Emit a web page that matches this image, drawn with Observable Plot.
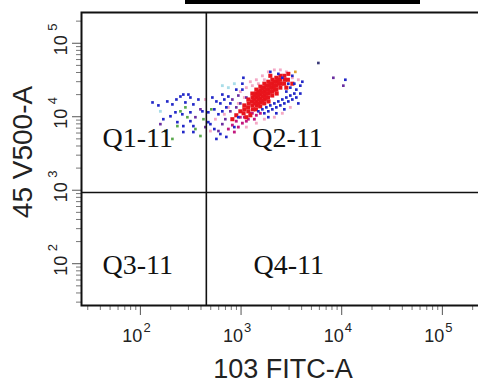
<!DOCTYPE html>
<html><head><meta charset="utf-8">
<script src="https://cdn.jsdelivr.net/npm/d3@7"></script>
<script src="https://cdn.jsdelivr.net/npm/@observablehq/plot@0.6"></script>
<style>
html,body{margin:0;padding:0;background:#fff;overflow:hidden;width:478px;height:385px}
#chart{position:absolute;left:0;top:0}
#bar{position:absolute;left:185px;top:0;width:235px;height:4px;background:#000}
</style></head><body>
<div id="chart"></div><div id="bar"></div>
<script>
// Tick values and labels
const decades = [100, 1000, 10000, 100000];
const exponents = ["2", "3", "4", "5"];
const minorTicks = [30,40,50,60,70,80,90,200,300,400,500,600,700,800,900,2000,3000,4000,5000,6000,7000,8000,9000,20000,30000,40000,50000,60000,70000,80000,90000,200000];

// Axis titles and gates
const xTitle = "103 FITC-A";
const yTitle = "45 V500-A";
const gateFITC = 452;
const gateV500 = 930;

// Quadrant labels
const quadLabels = ["Q1-11", "Q2-11", "Q3-11", "Q4-11"];
const quadFITC = [42, 1295, 42, 1330];
const quadV500 = [5200, 5200, 95, 95];

// Events (FITC, V500) per population colour
const redFITC = [1078,1078,1060, 1182,1190,1175,1182, 1295,1300,1285,1295,1310, 1419,1410,1425,1419,1430,1405,
  1555,1560,1545,1555,1570,1550, 1704,1690,1710,1704,1720,1700, 1867,1880,1860,1867,1850,1875,
  2046,2030,2060,2046,2040, 2242,2250,2230,2242,2260, 2457,2440,2470,2457, 2692,2710,2680, 2950,2920,
  1356,1350,1365, 1486,1480,1495,1486, 1629,1620,1640,1629, 1784,1790,1775,1784, 1954,1960,1945,
  2142,2130,2150, 2346,2360, 984,897,820,3232,1954,2818,1237,1129];
const redV500 = [14270,12610,11140, 17170,15180,13410,11850, 20680,18270,16150,14270,12610, 23400,20680,18270,16150,14270,12610,
  25670,22690,20050,17720,15650,13830, 28170,24890,22000,19440,17170,15180, 29960,26480,23400,20680,18270,16150,
  31870,28170,24890,22000,19440, 33900,29960,26480,23400,20680, 36060,31870,28170,24890, 36060,31870,28170, 38360,31870,
  19440,17170,15180, 22000,19440,17170,15180, 24130,21330,18850,16650, 26480,23400,20680,18270, 28170,24890,22000,
  29960,26480,23400, 31870,28170, 11850,10470,9260,28170,36060,24890,10470,9850];

const blueFITC = [1486,1629,1784,1954,2142,2346,2571,2818,3088,3383,1704,1867,2046,2242,2457,2692,2950,3232,3542,
  2818,3088,3383,3542,3881,2950,2571,2346,1954,3881,3708,2692,2242,1867,4063,3232,
  132,151,185,208,228,250,267,300,314,280,336,377,413,314,261,223,199,314,336,267,233,267,336,473,473,169,
  519,569,623,682,543,596,652,714,783,496,543,623,714,569,652,748,897,1055,1031,1031,858,940, 10870];
const blueV500 = [11850,12610,13410,14270,15180,16150,17170,18270,19440,20680,11140,11850,12610,13410,14270,15180,16150,17170,18270,
  22000,24890,28170,23400,20680,28170,33900,38360,40800,26480,15180,12610,11140,9850,29960,36060,
  15650,14270,16150,14720,17170,18850,20050,20050,18270,15650,14720,17170,11850,11490,10800,11490,10150,8700,7460,7460,8440,6190,6190,11490,8440,9260,
  18270,16150,15180,17170,12610,10800,11850,13410,15180,7930,6800,5820,5310,4990,20050,18850,23400,33900,28170,23400,7230,9850, 31870];

const magentaFITC = [748,820,897,984,1078,940,858,1031,1129,1237,1295,1419,1555,1182,1356];
const magentaV500 = [6800,7690,8700,9850,9850,7230,6190,8180,8700,11140,11140,10470,11140,9260,9260];

const purpleFITC = [698,652,596,783,897,984,1129,395,442,158,352,820,940,8260,10380];
const purpleV500 = [9260,7930,6390,11850,13410,15180,18270,12610,7230,7930,9850,17170,19440,33900,26480];

const pinkFITC = [1237,1419,1629,1867,2142,2457,2818,3232,3708,3088,2571,2142,1704,1419,1129,984,1129,1295,1078,1486,1704,940,748,682,556,442,496];
const pinkV500 = [29960,31870,36060,40800,43410,43410,40800,33900,31870,13410,11140,9850,9260,8180,7230,22000,24890,26480,18270,28170,31870,15180,13410,10800,9260,17170,6390];

const greenFITC = [250,293,233,352,395,208,280,423,507,177];
const greenV500 = [11850,9850,7460,6800,5470,4990,13410,9260,12610,6390];

const cyanFITC = [748,858,158,652];
const cyanV500 = [24890,28170,11850,26480];

const darkFITC = [5862];
const darkV500 = [53890];
const orangeFITC = [3462];
const orangeV500 = [40800];

const toRows = (xs, ys) => xs.map((x, i) => ({fitc: x, v500: ys[i]}));

const dots = (xs, ys, fill, r) => Plot.dot(toRows(xs, ys), {x: "fitc", y: "v500", fill, r, symbol: "square", stroke: null});

const chart = Plot.plot({
  width: 490, height: 385,
  marginTop: 12, marginLeft: 81, marginRight: 6, marginBottom: 80,
  style: {background: "transparent", fontFamily: "'Liberation Sans', Arial, sans-serif", overflow: "visible", maxWidth: "none"},
  x: {type: "log", domain: [26, 262144], label: null},
  y: {type: "log", domain: [27, 262144], label: null},
  marks: [
    Plot.axisX(minorTicks, {anchor: "bottom", tickSize: 5, tickFormat: () => "", stroke: "#777", label: null}),
    Plot.axisX(decades, {anchor: "bottom", tickSize: 10, tickFormat: () => "", stroke: "#555", label: null}),
    Plot.axisY(minorTicks, {anchor: "left", tickSize: 5, tickFormat: () => "", stroke: "#777", label: null}),
    Plot.axisY(decades, {anchor: "left", tickSize: 9, tickFormat: () => "", stroke: "#555", label: null}),
    dots(pinkFITC, pinkV500, "#f4a9c6", 1.6),
    dots(cyanFITC, cyanV500, "#a9dde8", 1.6),
    dots(greenFITC, greenV500, "#5aa84c", 1.5),
    dots(purpleFITC, purpleV500, "#6b2fa0", 1.5),
    dots(magentaFITC, magentaV500, "#c3197f", 1.6),
    dots(redFITC, redV500, "#e8141c", 2.3),
    dots(blueFITC, blueV500, "#2228c8", 1.5),
    dots(darkFITC, darkV500, "#3a3a78", 1.5),
    dots(orangeFITC, orangeV500, "#e0a030", 1.5),
    Plot.ruleX([gateFITC], {stroke: "#111", strokeWidth: 1.6}),
    Plot.ruleY([gateV500], {stroke: "#111", strokeWidth: 1.6}),
    Plot.frame({stroke: "#111", strokeWidth: 2}),
    Plot.text(quadLabels, {x: (d, i) => quadFITC[i], y: (d, i) => quadV500[i], text: d => d, textAnchor: "start", lineAnchor: "middle",
      fontSize: 28, fontFamily: "'Liberation Serif', 'Times New Roman', serif", fill: "#111"}),
    Plot.text(decades, {x: d => d, frameAnchor: "bottom", text: () => "10", textAnchor: "end", lineAnchor: "middle", dx: 2, dy: 31, fontSize: 18, fill: "#222"}),
    Plot.text(decades, {x: d => d, frameAnchor: "bottom", text: (d, i) => exponents[i], textAnchor: "start", lineAnchor: "middle", dx: 3, dy: 22, fontSize: 13, fill: "#222"}),
    Plot.text(decades, {y: d => d, frameAnchor: "left", text: () => "10", rotate: -90, textAnchor: "middle", lineAnchor: "middle", dx: -20, dy: 2, fontSize: 18, fill: "#222"}),
    Plot.text(decades, {y: d => d, frameAnchor: "left", text: (d, i) => exponents[i], rotate: -90, textAnchor: "middle", lineAnchor: "middle", dx: -29, dy: -16, fontSize: 13, fill: "#222"}),
    Plot.text([xTitle], {frameAnchor: "bottom", text: d => d, textAnchor: "middle", lineAnchor: "middle", dy: 64, fontSize: 27, fill: "#222"}),
    Plot.text([yTitle], {frameAnchor: "left", text: d => d, rotate: -90, textAnchor: "middle", lineAnchor: "middle", dx: -58, dy: -7, fontSize: 28, fill: "#222"})
  ]
});
document.getElementById("chart").appendChild(chart);
</script></body></html>
